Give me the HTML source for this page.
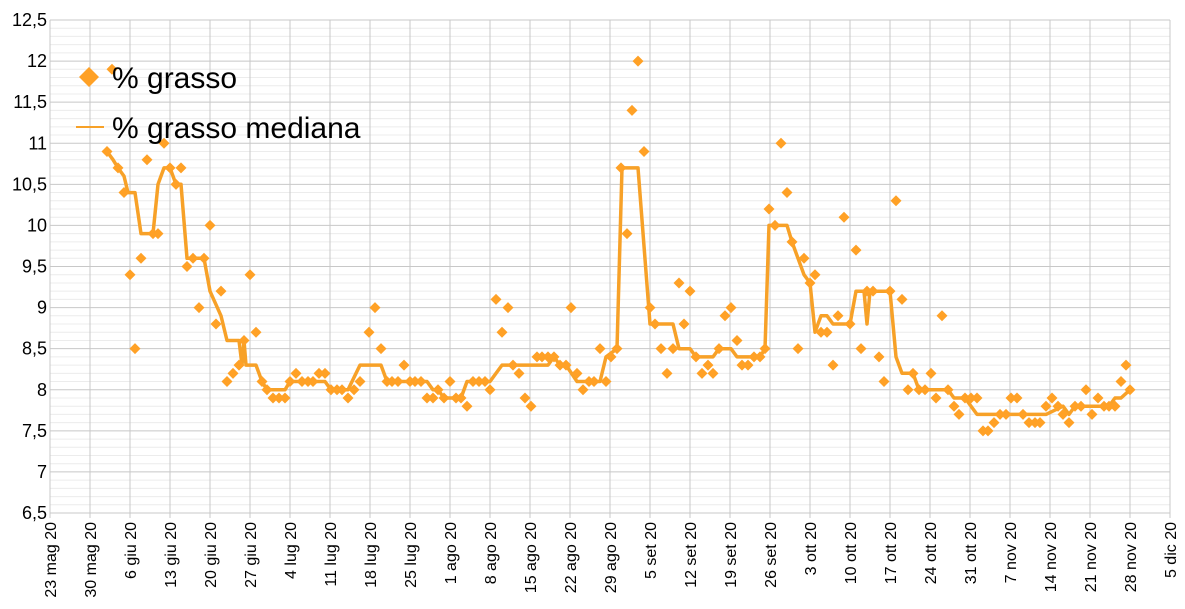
<!DOCTYPE html>
<html><head><meta charset="utf-8"><style>
html,body{margin:0;padding:0;background:#fff}
svg text{font-family:"Liberation Sans",sans-serif;fill:#000}
</style></head><body>
<svg id="c" width="1185" height="604" xmlns="http://www.w3.org/2000/svg"></svg>
<script>
const s=document.getElementById('c');let h='';
const Y=v=>20+(12.5-v)*82.17;
for(let i=0;i<=60;i++){const v=6.5+i*0.1;const y=Y(v);const maj=(i%5==0);
 h+=`<line x1="50" x2="1170" y1="${y}" y2="${y}" stroke="${maj?'#c8c8c8':'#ececec'}" stroke-width="1"/>`;
 if(maj){h+=`<text x="47" y="${y+6}" font-size="18" text-anchor="end">${(v.toFixed(1)).replace('.0','').replace('.',',')}</text>`;}}
const labs=["23 mag 20","30 mag 20","6 giu 20","13 giu 20","20 giu 20","27 giu 20","4 lug 20","11 lug 20","18 lug 20","25 lug 20","1 ago 20","8 ago 20","15 ago 20","22 ago 20","29 ago 20","5 set 20","12 set 20","19 set 20","26 set 20","3 ott 20","10 ott 20","17 ott 20","24 ott 20","31 ott 20","7 nov 20","14 nov 20","21 nov 20","28 nov 20","5 dic 20"];
labs.forEach((l,i)=>{const x=50+i*40;
 h+=`<line x1="${x}" x2="${x}" y1="20" y2="518" stroke="#c8c8c8"/>`;
 h+=`<text transform="translate(${x+6},522) rotate(-90)" font-size="16" text-anchor="end">${l}</text>`;});
const med=[[107,10.9],[113,10.8],[118,10.7],[124,10.6],[128,10.4],[135,10.4],[141,9.9],[153,9.9],[158,10.5],[164,10.7],[170,10.7],[176,10.5],[181,10.5],[187,9.6],[204,9.6],[210,9.2],[221,8.9],[227,8.6],[239,8.6],[242,8.3],[244,8.6],[246,8.3],[256,8.3],[262,8.1],[267,8.0],[285,8.0],[290,8.1],[325,8.1],[331,8.0],[348,8.0],[360,8.3],[381,8.3],[387,8.1],[427,8.1],[433,8.0],[438,8.0],[444,7.9],[461,7.9],[467,8.1],[490,8.1],[502,8.3],[548,8.3],[554,8.4],[560,8.3],[566,8.3],[577,8.1],[600,8.1],[606,8.4],[617,8.5],[622,10.7],[638,10.7],[650,8.8],[673,8.8],[679,8.5],[690,8.5],[696,8.4],[713,8.4],[719,8.5],[731,8.5],[737,8.4],[760,8.4],[765,8.5],[769,10.0],[787,10.0],[792,9.8],[804,9.4],[810,9.3],[815,8.7],[821,8.9],[827,8.9],[833,8.8],[850,8.8],[856,9.2],[864,9.2],[867,8.8],[870,9.2],[890,9.2],[896,8.4],[902,8.2],[913,8.2],[919,8.0],[948,8.0],[954,7.9],[965,7.9],[977,7.7],[1046,7.7],[1063,7.8],[1069,7.7],[1075,7.8],[1109,7.8],[1115,7.9],[1121,7.9],[1130,8.0]];
h+=`<polyline fill="none" stroke="#f7a128" stroke-width="3.5" stroke-linejoin="round" points="${med.map(p=>p[0]+','+Y(p[1]).toFixed(1)).join(' ')}"/>`;
const pts=[[107,10.9],[112,11.9],[118,10.7],[124,10.4],[130,9.4],[135,8.5],[141,9.6],[147,10.8],[153,9.9],[158,9.9],[164,11.0],[170,10.7],[176,10.5],[181,10.7],[187,9.5],[193,9.6],[199,9.0],[204,9.6],[210,10.0],[216,8.8],[221,9.2],[227,8.1],[233,8.2],[239,8.3],[244,8.6],[250,9.4],[256,8.7],[262,8.1],[267,8.0],[273,7.9],[279,7.9],[285,7.9],[290,8.1],[296,8.2],[302,8.1],[308,8.1],[313,8.1],[319,8.2],[325,8.2],[331,8.0],[337,8.0],[342,8.0],[348,7.9],[354,8.0],[360,8.1],[369,8.7],[375,9.0],[381,8.5],[387,8.1],[392,8.1],[398,8.1],[404,8.3],[410,8.1],[415,8.1],[421,8.1],[427,7.9],[433,7.9],[438,8.0],[444,7.9],[450,8.1],[456,7.9],[461,7.9],[467,7.8],[473,8.1],[479,8.1],[485,8.1],[490,8.0],[496,9.1],[502,8.7],[508,9.0],[513,8.3],[519,8.2],[525,7.9],[531,7.8],[537,8.4],[542,8.4],[548,8.4],[554,8.4],[560,8.3],[566,8.3],[571,9.0],[577,8.2],[583,8.0],[589,8.1],[594,8.1],[600,8.5],[606,8.1],[611,8.4],[617,8.5],[621,10.7],[627,9.9],[632,11.4],[638,12.0],[644,10.9],[650,9.0],[655,8.8],[661,8.5],[667,8.2],[673,8.5],[679,9.3],[684,8.8],[690,9.2],[696,8.4],[702,8.2],[708,8.3],[713,8.2],[719,8.5],[725,8.9],[731,9.0],[737,8.6],[742,8.3],[748,8.3],[754,8.4],[760,8.4],[765,8.5],[769,10.2],[775,10.0],[781,11.0],[787,10.4],[792,9.8],[798,8.5],[804,9.6],[810,9.3],[815,9.4],[821,8.7],[827,8.7],[833,8.3],[838,8.9],[844,10.1],[850,8.8],[856,9.7],[861,8.5],[867,9.2],[873,9.2],[879,8.4],[884,8.1],[890,9.2],[896,10.3],[902,9.1],[908,8.0],[913,8.2],[919,8.0],[925,8.0],[931,8.2],[936,7.9],[942,8.9],[948,8.0],[954,7.8],[959,7.7],[965,7.9],[971,7.9],[977,7.9],[983,7.5],[988,7.5],[994,7.6],[1000,7.7],[1006,7.7],[1011,7.9],[1017,7.9],[1023,7.7],[1029,7.6],[1035,7.6],[1040,7.6],[1046,7.8],[1052,7.9],[1058,7.8],[1063,7.7],[1069,7.6],[1075,7.8],[1081,7.8],[1086,8.0],[1092,7.7],[1098,7.9],[1104,7.8],[1109,7.8],[1115,7.8],[1121,8.1],[1126,8.3],[1130,8.0]];
pts.forEach(p=>{const x=p[0],y=Y(p[1]);h+=`<path d="M${x} ${y-5.5}L${x+5.5} ${y}L${x} ${y+5.5}L${x-5.5} ${y}Z" fill="#ffa126"/>`;});
h+=`<path d="M89 67L99 77L89 87L79 77Z" fill="#ffa126"/>`;
h+=`<text x="112" y="88" font-size="30">% grasso</text>`;
h+=`<line x1="76" x2="104" y1="127" y2="127" stroke="#f7a128" stroke-width="2"/>`;
h+=`<text x="112" y="138" font-size="30">% grasso mediana</text>`;
s.innerHTML=h;
</script>
</body></html>
